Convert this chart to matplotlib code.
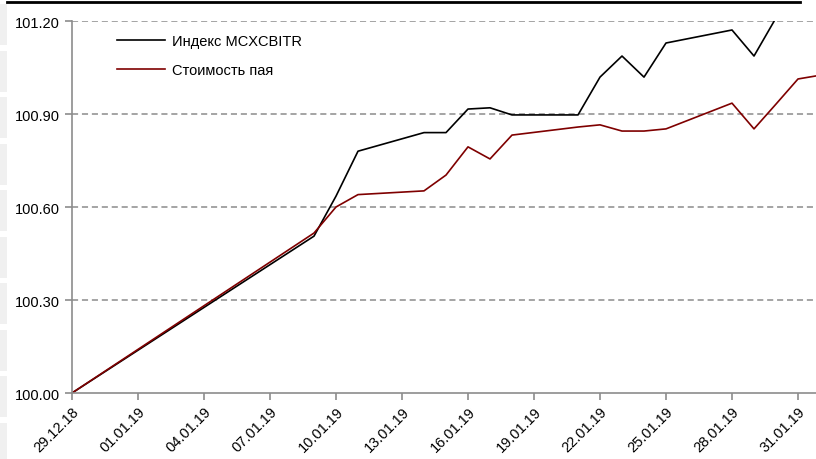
import numpy as np
import pandas as pd
import matplotlib
matplotlib.use("Agg")
import matplotlib.pyplot as plt
import matplotlib.dates as mdates
from matplotlib.patches import Rectangle
from matplotlib.lines import Line2D

plt.rcParams['font.family'] = ['Liberation Sans', 'DejaVu Sans']

# trading days (weekends / holidays are bridged by straight segments)
dates = pd.to_datetime([
    "2018-12-29", "2019-01-09", "2019-01-10", "2019-01-11", "2019-01-14",
    "2019-01-15", "2019-01-16", "2019-01-17", "2019-01-18", "2019-01-21",
    "2019-01-22", "2019-01-23", "2019-01-24", "2019-01-25", "2019-01-28",
    "2019-01-29", "2019-01-30", "2019-01-31", "2019-02-01",
])
index_vals = [100.00, 100.506, 100.635, 100.78, 100.84, 100.84, 100.916, 100.92,
              100.897, 100.897, 101.019, 101.087, 101.019, 101.129, 101.171,
              101.087, 101.21, 101.26, 101.28]
fund_vals = [100.00, 100.516, 100.60, 100.64, 100.652, 100.703, 100.794, 100.755,
             100.832, 100.858, 100.865, 100.845, 100.845, 100.852, 100.935,
             100.852, 100.932, 101.013, 101.025]
labels = ["Индекс MCXCBITR", "Стоимость пая"]
colors = ["#000000", "#7f0000"]

yticks = [100.00, 100.30, 100.60, 100.90, 101.20]
tick_start = pd.Timestamp("2018-12-29")
tick_dates = pd.date_range(tick_start, periods=12, freq="3D")

fig = plt.figure(figsize=(8.16, 4.6), dpi=100)
ax = fig.add_axes([72/816, 66/460, 748/816, 372/460])

ax.plot(dates, index_vals, color=colors[0], lw=1.2, label=labels[0])
ax.plot(dates, fund_vals, color=colors[1], lw=1.2, label=labels[1])

ax.set_xlim(pd.Timestamp("2018-12-29"), pd.Timestamp("2019-02-01"))
ax.set_ylim(100.0, 101.2)
ax.set_yticks(yticks)
ax.set_yticklabels([f"{v:.2f}" for v in yticks])
ax.set_xticks(tick_dates)
ax.xaxis.set_major_formatter(mdates.DateFormatter("%d.%m.%y"))
for lbl in ax.get_xticklabels():
    lbl.set_rotation(45)
    lbl.set_ha("right")
    lbl.set_rotation_mode("anchor")

for y in yticks[1:]:
    ax.axhline(y, color="#8c8c8c", lw=1.1, ls=(0, (4, 2.5)), zorder=0)

for s in ["top", "right"]:
    ax.spines[s].set_visible(False)
for s in ["left", "bottom"]:
    ax.spines[s].set_color("#8c8c8c")
    ax.spines[s].set_linewidth(1.2)
ax.tick_params(axis="both", colors="#8c8c8c", length=5, width=1.2,
               labelsize=10.5, labelcolor="black")
ax.tick_params(axis="y", pad=4)
ax.tick_params(axis="x", pad=3)

ax.legend(loc="upper left", bbox_to_anchor=(0.042, 1.0), frameon=False,
          handlelength=3.3, labelspacing=1.05, fontsize=10.5, handletextpad=0.5)

# page decorations: top rule and light blocks on the left edge
fig.add_artist(Line2D([7/816, 800/816], [1 - 3/460, 1 - 3/460],
                      color="black", lw=2, transform=fig.transFigure))
for i in range(10):
    y0 = 5 + i * 46.5
    fig.add_artist(Rectangle((0, 1 - (y0 + 41)/460), 7/816, 41/460,
                             color="#f0f0f0", transform=fig.transFigure, lw=0))

fig.savefig("out.png", dpi=100)
